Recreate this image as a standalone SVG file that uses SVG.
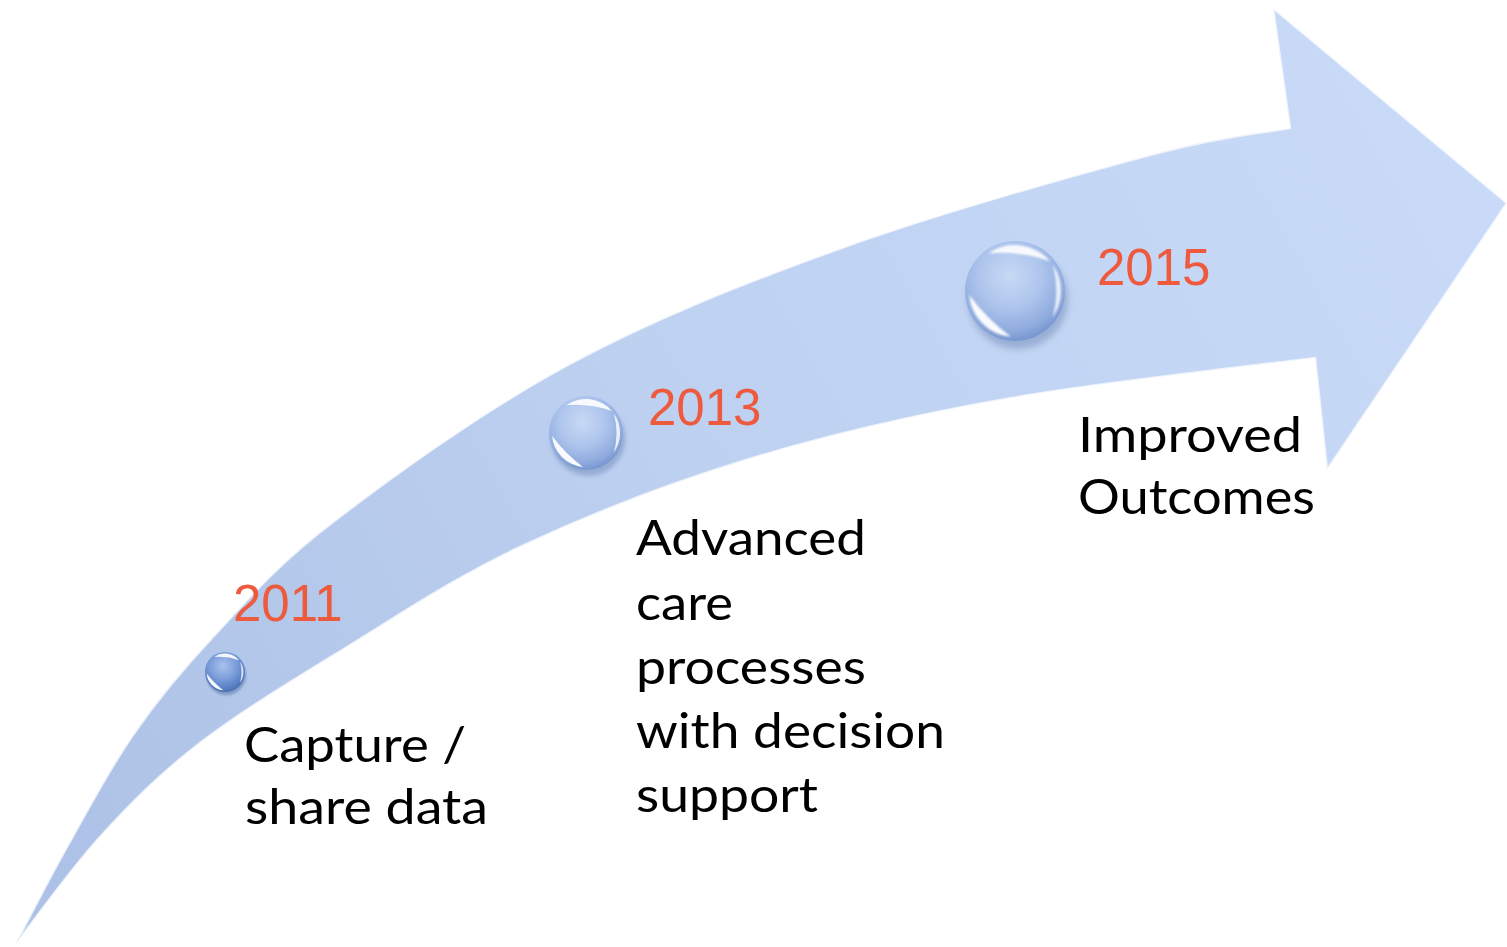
<svg xmlns="http://www.w3.org/2000/svg" width="1507" height="947" viewBox="0 0 1507 947">
<style>
.year{font-family:"Liberation Sans",Arial,sans-serif;font-size:51px;fill:#ee5a3e}
.lbl{font-family:Lato,"Open Sans",sans-serif;font-size:48px;fill:#000}
.hl{fill:#fff}
</style>
<defs>
<linearGradient id="arrowFill" x1="0" y1="947" x2="1507" y2="100" gradientUnits="userSpaceOnUse">
<stop offset="0" stop-color="#abc0e5"/>
<stop offset="0.5" stop-color="#bed1f1"/>
<stop offset="1" stop-color="#c9dbf8"/>
</linearGradient>
<radialGradient id="sph" cx="0.45" cy="0.35" r="0.65">
<stop offset="0" stop-color="#c8d9f5"/>
<stop offset="0.5" stop-color="#adc4ec"/>
<stop offset="0.85" stop-color="#8eaadd"/>
<stop offset="1" stop-color="#7896d0"/>
</radialGradient>
<radialGradient id="sphDark" cx="0.45" cy="0.35" r="0.65">
<stop offset="0" stop-color="#a9c2ea"/>
<stop offset="0.5" stop-color="#7c9edb"/>
<stop offset="0.85" stop-color="#5a80c4"/>
<stop offset="1" stop-color="#4a6fb5"/>
</radialGradient>
<filter id="blur" x="-50%" y="-50%" width="200%" height="200%"><feGaussianBlur stdDeviation="3"/></filter>
<filter id="soft" x="-50%" y="-50%" width="200%" height="200%"><feGaussianBlur stdDeviation="0.8"/></filter>
<g id="sphHi">
<path class="hl" d="M-26.4,-37.7 A46,46 0 0 1 35.2,-29.6 A150,150 0 0 0 -26.4,-37.7Z" opacity="0.9" filter="url(#soft)"/>
<path class="hl" d="M-45.8,4 A46,46 0 0 0 -4,45.8 A200,200 0 0 1 -45.8,4Z" opacity="0.95" filter="url(#soft)"/>
<path class="hl" d="M37.7,-26.4 A46,46 0 0 1 37.7,26.4 A100,100 0 0 0 37.7,-26.4Z" opacity="0.8" filter="url(#soft)"/>
</g>
<g id="sphere">
<circle cx="3" cy="8" r="50" fill="#4d6a9c" opacity="0.35" filter="url(#blur)"/>
<circle cx="0" cy="0" r="50" fill="url(#sph)"/>
<use href="#sphHi"/>
</g>
<g id="sphereDark">
<circle cx="3" cy="8" r="50" fill="#3d5a8c" opacity="0.4" filter="url(#blur)"/>
<circle cx="0" cy="0" r="50" fill="url(#sphDark)"/>
<use href="#sphHi"/>
</g>
</defs>
<rect width="1507" height="947" fill="#fff"/>
<g id="arrow">
<path d="M15,945 C23.7,928.7 47.3,882 67,847 C86.7,812 108.7,770 133,735 C157.3,700 179.7,672.5 213,637 C246.3,601.5 273.8,567.3 333,522 C392.2,476.7 484.2,410.3 568,365 C651.8,319.7 739,285 836,250 C933,215 1074.3,175.3 1150,155 C1225.7,134.7 1266.7,132.5 1290,128 L1273,8 L1507,203 L1327,470 L1315,358 C1262.5,365 1094.8,383 1000,400 C905.2,417 826,435.5 746,460 C666,484.5 586.5,515.8 520,547 C453.5,578.2 400.3,614.3 347,647 C293.7,679.7 241.2,711.3 200,743 C158.8,774.7 130.8,803.3 100,837 C69.2,870.7 29.2,927 15,945 Z" fill="url(#arrowFill)" stroke="#ffffff" stroke-opacity="0.7" stroke-width="2.5" stroke-linejoin="miter"/>
</g>
<g id="connectors"></g>
<g id="node-2011">
<use href="#sphereDark" transform="translate(225,672) scale(0.4)"/>
<text class="year" x="233" y="621">2011</text>
<text class="lbl" x="244" y="762" textLength="222" lengthAdjust="spacingAndGlyphs">Capture /</text>
<text class="lbl" x="245" y="824" textLength="243" lengthAdjust="spacingAndGlyphs">share data</text>
</g>
<g id="node-2013">
<use href="#sphere" transform="translate(586,433) scale(0.74)"/>
<text class="year" x="648" y="425">2013</text>
<text class="lbl" x="636" y="555" textLength="230" lengthAdjust="spacingAndGlyphs">Advanced</text>
<text class="lbl" x="636" y="620" textLength="97" lengthAdjust="spacingAndGlyphs">care</text>
<text class="lbl" x="636" y="684" textLength="230" lengthAdjust="spacingAndGlyphs">processes</text>
<text class="lbl" x="636" y="748" textLength="309" lengthAdjust="spacingAndGlyphs">with decision</text>
<text class="lbl" x="636" y="812" textLength="182" lengthAdjust="spacingAndGlyphs">support</text>
</g>
<g id="node-2015">
<use href="#sphere" transform="translate(1015,291)"/>
<text class="year" x="1097" y="285">2015</text>
<text class="lbl" x="1078" y="452" textLength="224" lengthAdjust="spacingAndGlyphs">Improved</text>
<text class="lbl" x="1078" y="514" textLength="237" lengthAdjust="spacingAndGlyphs">Outcomes</text>
</g>
</svg>
